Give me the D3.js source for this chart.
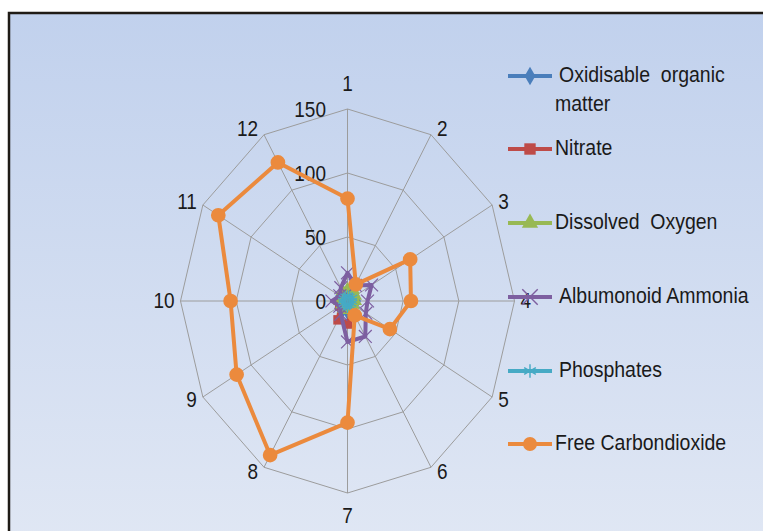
<!DOCTYPE html>
<html>
<head>
<meta charset="utf-8">
<script src="https://cdn.jsdelivr.net/npm/d3@7"></script>
<style>
  html, body { margin: 0; padding: 0; background: #fff; }
  svg { display: block; }
  text { white-space: pre; }
</style>
</head>
<body>
<script>
const categories = ["1", "2", "3", "4", "5", "6", "7", "8", "9", "10", "11", "12"];
const oxidisable = [8, 7, 8, 8, 7, 8, 9, 8, 7, 8, 8, 7];
const nitrate = [3, 4, 3, 3, 4, 8, 18, 17, 8, 5, 4, 3];
const dissolvedOxygen = [9, 10, 8, 7, 6, 6, 7, 7, 6, 7, 7, 9];
const albumonoid = [22, 14, 25, 18, 19, 32, 32, 12, 8, 14, 8, 12];
const phosphates = [4, 4, 5, 4, 4, 4, 5, 4, 4, 4, 4, 4];
const freeCO2 = [80, 15, 65, 57, 44, 13, 95, 139, 115, 105, 134, 125];
const ticks = [0, 50, 100, 150];

const series = [
  { name: ["Oxidisable  organic", "matter"], values: oxidisable, color: "#4a7ebb", marker: "diamond", dx: 4 },
  { name: ["Nitrate"], values: nitrate, color: "#be4b48", marker: "square", dx: 0 },
  { name: ["Dissolved  Oxygen"], values: dissolvedOxygen, color: "#98b954", marker: "triangle", dx: 0 },
  { name: ["Albumonoid Ammonia"], values: albumonoid, color: "#7d5fa0", marker: "x", dx: 4 },
  { name: ["Phosphates"], values: phosphates, color: "#46aac5", marker: "star", dx: 4 },
  { name: ["Free Carbondioxide"], values: freeCO2, color: "#eb8a3d", marker: "circle", dx: 0 }
];

const width = 763, height = 531;
const cx = 347.5, cy = 301;
const stretch = 1.12;   // text is stretched vertically in the picture

const svg = d3.select("body").append("svg")
  .attr("width", width)
  .attr("height", height);

const defs = svg.append("defs");
const grad = defs.append("linearGradient").attr("id", "bg")
  .attr("x1", 0).attr("y1", 0).attr("x2", 0).attr("y2", 1);
grad.append("stop").attr("offset", "0%").attr("stop-color", "#c1d1ed");
grad.append("stop").attr("offset", "100%").attr("stop-color", "#e0e7f4");

svg.append("rect")
  .attr("x", 9).attr("y", 13)
  .attr("width", width).attr("height", height)
  .attr("fill", "url(#bg)")
  .attr("stroke", "#1f1b16")
  .attr("stroke-width", 2.5);

const rx = d3.scaleLinear().domain([0, 150]).range([0, 167]);
const ry = d3.scaleLinear().domain([0, 150]).range([0, 192]);
const angle = d3.scalePoint().domain(categories).range([0, 2 * Math.PI * 11 / 12]);

function pos(cat, v) {
  const a = angle(cat);
  return [cx + rx(v) * Math.sin(a), cy - ry(v) * Math.cos(a)];
}

const font = "'Liberation Sans', Arial, sans-serif";

function label(g, x, y, str, anchor, size) {
  return g.append("text")
    .attr("transform", `translate(${x},${y}) scale(1,${stretch})`)
    .attr("text-anchor", anchor)
    .attr("dominant-baseline", "middle")
    .attr("font-family", font)
    .attr("font-size", size)
    .attr("fill", "#1a1a1a")
    .text(str);
}

const grid = svg.append("g");
grid.selectAll("polygon")
  .data(ticks.slice(1))
  .join("polygon")
  .attr("points", t => categories.map(c => pos(c, t).join(",")).join(" "))
  .attr("fill", "none")
  .attr("stroke", "#9c9c9c")
  .attr("stroke-width", 1);

grid.selectAll("line")
  .data(categories)
  .join("line")
  .attr("x1", cx).attr("y1", cy)
  .attr("x2", c => pos(c, 150)[0])
  .attr("y2", c => pos(c, 150)[1])
  .attr("stroke", "#9c9c9c")
  .attr("stroke-width", 1);

const tickG = svg.append("g");
ticks.forEach(t => label(tickG, 326, cy - ry(t) + 2, String(t), "end", 19));

const catG = svg.append("g");
categories.forEach(c => {
  const a = angle(c);
  const s = Math.sin(a), k = Math.cos(a);
  const [ex, ey] = pos(c, 150);
  let anchor = "middle", x = ex, y = ey;
  if (Math.abs(s) < 0.01) {
    y = ey - 24 * k;
  } else {
    anchor = s > 0 ? "start" : "end";
    x = ex + 6 * Math.sign(s);
    y = ey - 6 * k + 1;
  }
  label(catG, x, y, c, anchor, 19);
});

const symbolFor = {
  diamond: d3.symbol(d3.symbolDiamond, 70),
  square: d3.symbol(d3.symbolSquare, 90),
  triangle: d3.symbol(d3.symbolTriangle, 80),
  x: d3.symbol(d3.symbolTimes, 110),
  star: d3.symbol(d3.symbolAsterisk, 90),
  circle: d3.symbol(d3.symbolCircle, 170)
};

function drawMarker(g, s, x, y, scale) {
  const open = s.marker === "x" || s.marker === "star";
  g.append("path")
    .attr("d", symbolFor[s.marker]())
    .attr("transform", `translate(${x},${y}) scale(${scale})`)
    .attr("fill", open ? "none" : s.color)
    .attr("stroke", s.color)
    .attr("stroke-width", open ? 1.2 : 0);
}

const line = d3.line().curve(d3.curveLinearClosed);

series.forEach(s => {
  const g = svg.append("g");
  const pts = categories.map((c, i) => pos(c, s.values[i]));
  g.append("path")
    .attr("d", line(pts))
    .attr("fill", "none")
    .attr("stroke", s.color)
    .attr("stroke-width", 4)
    .attr("stroke-linejoin", "round");
  pts.forEach(p => drawMarker(g, s, p[0], p[1], 1));
});

// legend
const legY = [76, 149, 223, 297, 371, 444];
const legend = svg.append("g");
series.forEach((s, i) => {
  const y = legY[i];
  legend.append("line")
    .attr("x1", 508).attr("x2", 552)
    .attr("y1", y).attr("y2", y)
    .attr("stroke", s.color)
    .attr("stroke-width", 4);
  drawMarker(legend, s, 530, y, s.marker === "circle" ? 0.95 : 1.2);
  s.name.forEach((n, k) => {
    label(legend, 555 + (k === 0 ? s.dx : 0), y + k * 29, n, "start", 19.5);
  });
});
</script>
</body>
</html>
